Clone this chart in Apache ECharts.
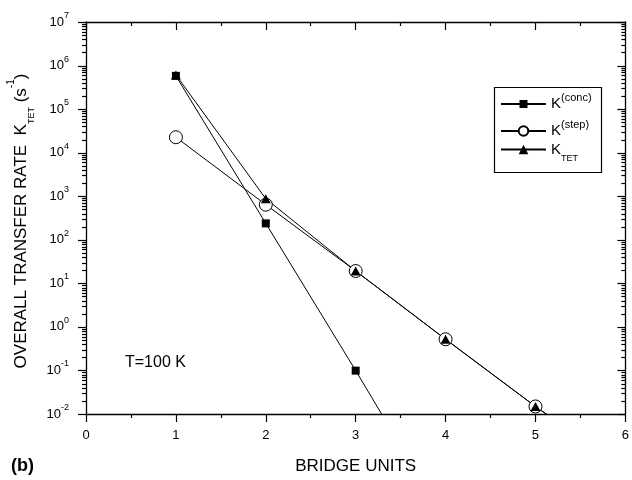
<!DOCTYPE html>
<html><head><meta charset="utf-8">
<script src="https://cdn.jsdelivr.net/npm/echarts@6/dist/echarts.min.js"></script>
<style>html,body{margin:0;padding:0;background:#fff}#c{width:632px;height:480px}</style>
</head><body><div id="c"></div>
<script>
// ---- data ----
const kConcX = [1, 2, 3, 4];
const kConc  = [5.8e5, 238, 0.099, 3.5e-5];
const kStepX = [1, 2, 3, 4, 5, 6];
const kStep  = [2.26e4, 640, 19.2, 0.52, 0.0149, 5.3e-4];
const kTetX  = [1, 2, 3, 4, 5, 6];
const kTet   = [6.1e5, 875, 19.2, 0.52, 0.0149, 5.3e-4];
const xTickLabels = ['0', '1', '2', '3', '4', '5', '6'];
const yExponents = [-2, -1, 0, 1, 2, 3, 4, 5, 6, 7];
const minorMults = [2, 3, 4, 5, 6, 7, 8, 9];

const FONT = 'Liberation Sans, Arial, Helvetica, sans-serif';
const pairs = (xs, ys) => xs.map((x, i) => [x, ys[i]]);

// y-axis tick positions (decoration): [x, value, major?]
const yTickData = [];
yExponents.forEach(e => yTickData.push([0, Math.pow(10, e), 1]));
yExponents.slice(0, -1).forEach(e => minorMults.forEach(m => yTickData.push([0, m * Math.pow(10, e), 0])));

const chart = echarts.init(document.getElementById('c'), null, {renderer: 'canvas'});

const LW = 1.2;
const axisLineStyle = {show: true, onZero: false, lineStyle: {color: '#000', width: 1.3}};
const xBase = {
  type: 'value', min: 0, max: 6, interval: 1,
  axisLine: axisLineStyle, splitLine: {show: false},
  minorTick: {show: true, splitNumber: 2, length: 4, lineStyle: {color: '#000', width: LW}},
};
const yBase = {
  type: 'log', logBase: 10, min: 0.01, max: 1e7, interval: 1,
  axisLine: axisLineStyle, splitLine: {show: false}, minorTick: {show: false},
  axisTick: {show: false}
};

const legendRich = {
  k:   {fontSize: 15, lineHeight: 24, color: '#000', fontFamily: FONT},
  k2:  {fontSize: 15, lineHeight: 28, color: '#000', fontFamily: FONT},
  sup: {fontSize: 11, lineHeight: 11, verticalAlign: 'top', color: '#000', fontFamily: FONT},
  sub: {fontSize: 9, lineHeight: 9, verticalAlign: 'bottom', color: '#000', fontFamily: FONT}
};
const legendFmt = {
  'K(conc)': '{k|K}{sup|(conc)}',
  'K(step)': '{k|K}{sup|(step)}',
  'KTET': '{k2|K}{sub|TET}'
};
function mkLegend(name, top, ih) {
  return {
    data: [name], orient: 'vertical', left: 500, top: top, padding: 0,
    itemWidth: 45, itemHeight: ih, selectedMode: false,
    formatter: n => legendFmt[n],
    textStyle: {rich: legendRich}
  };
}

const option = {
  animation: false,
  backgroundColor: '#fff',
  grid: {left: 86, right: 6, top: 22, bottom: 60, containLabel: false},
  legend: [
    mkLegend('K(conc)', 92, 10),
    mkLegend('K(step)', 119, 12),
    mkLegend('KTET', 142, 12)
  ],
  xAxis: [
    Object.assign({}, xBase, {
      position: 'bottom',
      axisTick: {show: true, inside: false, length: 8, lineStyle: {color: '#000', width: LW}},
      axisLabel: {color: '#000', fontSize: 13, fontFamily: FONT, margin: 15,
        formatter: v => xTickLabels[Math.round(v)]},
      name: 'BRIDGE UNITS', nameLocation: 'middle', nameGap: 44,
      nameTextStyle: {color: '#000', fontSize: 17, fontFamily: FONT}
    }),
    Object.assign({}, xBase, {
      position: 'top',
      axisTick: {show: true, inside: true, length: 8, lineStyle: {color: '#000', width: LW}},
      minorTick: {show: true, splitNumber: 2, length: 4, lineStyle: {color: '#000', width: LW}},
      axisLabel: {show: false}
    })
  ],
  yAxis: [
    Object.assign({}, yBase, {
      position: 'left',
      axisLabel: {
        margin: 17,
        formatter: v => '{b|10}{s|' + Math.round(Math.log10(v)) + '}',
        rich: {
          b: {fontSize: 13, lineHeight: 22, color: '#000', fontFamily: FONT},
          s: {fontSize: 9, lineHeight: 9, verticalAlign: 'top', color: '#000', fontFamily: FONT}
        }
      }
    }),
    Object.assign({}, yBase, {
      position: 'right',
      axisLabel: {show: false}
    })
  ],
  series: [
    {name: 'K(conc)', type: 'line', data: pairs(kConcX, kConc), showSymbol: false,
      symbol: 'rect', z: 2, clip: true,
      lineStyle: {color: '#000', width: 1}, itemStyle: {color: '#000'}},
    {name: 'K(step)', type: 'line', data: pairs(kStepX, kStep), showSymbol: false,
      symbol: 'circle', z: 2, clip: true,
      lineStyle: {color: '#000', width: 1}, itemStyle: {color: '#fff', borderColor: '#000', borderWidth: 1}},
    {name: 'KTET', type: 'line', data: pairs(kTetX, kTet), showSymbol: false,
      symbol: 'triangle', z: 2, clip: true,
      lineStyle: {color: '#000', width: 1}, itemStyle: {color: '#000'}},
    {type: 'scatter', data: pairs(kConcX, kConc), symbol: 'rect', symbolSize: 8, z: 3, clip: true,
      itemStyle: {color: '#000', opacity: 1}},
    {type: 'scatter', data: pairs(kStepX, kStep), symbol: 'circle', symbolSize: 13, z: 3, clip: true,
      itemStyle: {color: '#fff', borderColor: '#000', borderWidth: 1, opacity: 1}},
    {type: 'scatter', data: pairs(kTetX, kTet), symbol: 'triangle', symbolSize: [10, 9], z: 3, clip: true,
      itemStyle: {color: '#000', opacity: 1}},
    {type: 'custom', coordinateSystem: 'cartesian2d', data: yTickData, clip: false, z: 4,
      encode: {x: 0, y: 1},
      renderItem: function (params, api) {
        const v = api.value(1);
        const len = api.value(2) ? 8 : 4;
        const pL = api.coord([0, v]);
        const pR = api.coord([6, v]);
        const yl = Math.round(pL[1]) + 0.5;
        return {type: 'group', children: [
          {type: 'line', shape: {x1: pL[0] - len, y1: yl, x2: pL[0], y2: yl}, style: {stroke: '#000', lineWidth: LW}},
          {type: 'line', shape: {x1: pR[0] - len, y1: yl, x2: pR[0], y2: yl}, style: {stroke: '#000', lineWidth: LW}}
        ]};
      }}
  ],
  graphic: [
    {type: 'rect', left: 492, top: 85, shape: {width: 107, height: 85},
      style: {fill: 'none', stroke: '#000', lineWidth: 1.2}, z: 10},
    {type: 'text', x: 125, y: 363, style: {text: 'T=100 K', fontSize: 16, fontFamily: FONT, fill: '#000',
      align: 'left', verticalAlign: 'middle'}},
    {type: 'text', x: 11, y: 466, style: {text: '(b)', fontSize: 18, fontWeight: 'bold', fontFamily: FONT, fill: '#000',
      align: 'left', verticalAlign: 'middle'}},
    {type: 'text', x: 21, y: 221, rotation: Math.PI / 2, style: {
      text: '{m|OVERALL TRANSFER RATE  K}{sub|TET}{m| (s}{sup|-1}{m|)}',
      align: 'center', verticalAlign: 'middle',
      rich: {
        m: {fontSize: 17, lineHeight: 30, fill: '#000', fontFamily: FONT},
        sub: {fontSize: 9, lineHeight: 9, verticalAlign: 'bottom', fill: '#000', fontFamily: FONT},
        sup: {fontSize: 10, lineHeight: 10, verticalAlign: 'top', fill: '#000', fontFamily: FONT}
      }}}
  ]
};
chart.setOption(option);
</script>
</body></html>
